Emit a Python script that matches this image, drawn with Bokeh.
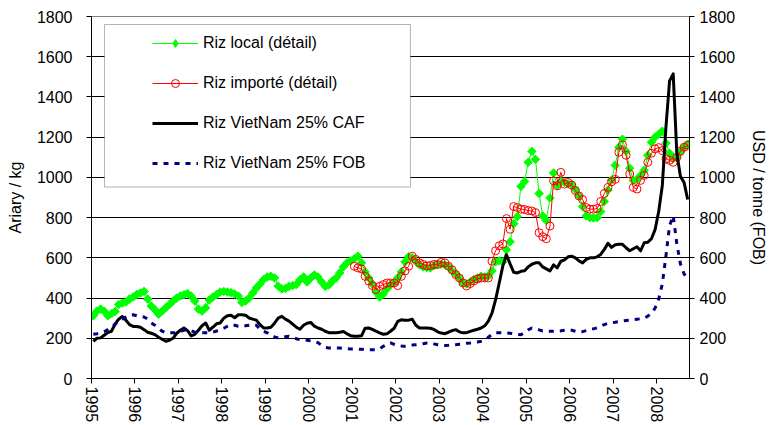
import math
from bokeh.plotting import figure
from bokeh.models import (Range1d, LinearAxis, FixedTicker, Legend, LegendItem,
                          BoxAnnotation)
from bokeh.embed import file_html
from bokeh.resources import INLINE

# ---------------- data (monthly, Jan 1995 .. Sep 2008) ----------------
start_year = 1995
year_ticks = list(range(1995, 2009))
left_ticks = list(range(0, 1801, 200))

riz_local = [
    312, 335, 345, 335, 312, 322, 333, 368, 375, 380, 395, 405,      # 1995
    418, 425, 433, 395, 360, 342, 320, 335, 352, 368, 385, 400,      # 1996
    410, 417, 423, 410, 385, 345, 335, 352, 390, 405, 417, 430,      # 1997
    433, 430, 427, 420, 410, 378, 385, 400, 425, 450, 470, 492,      # 1998
    505, 508, 500, 460, 445, 448, 458, 462, 467, 490, 505, 480,      # 1999
    500, 515, 505, 480, 458, 465, 485, 500, 525, 555, 575, 585,      # 2000
    595, 608, 575, 530, 500, 470, 430, 405, 420, 445, 465, 478,      # 2001
    500, 530, 580, 605, 600, 583, 565, 555, 552, 550, 560, 567,      # 2002
    568, 565, 558, 535, 520, 500, 475, 470, 480, 492, 500, 508,      # 2003
    505, 510, 535, 580, 585, 580, 640, 680, 770, 805, 955, 980,      # 2004
    1075, 1130, 1090, 920, 808, 785, 898, 1022, 960, 980, 975, 968,  # 2005
    965, 940, 908, 855, 808, 800, 798, 800, 830, 880, 937, 987,      # 2006
    1060, 1150, 1190, 1130, 1045, 985, 990, 1010, 1035, 1110, 1175, 1200,  # 2007
    1215, 1230, 1170, 1120, 1095, 1100, 1127, 1150, 1165,            # 2008
]

riz_importe = [  # from Jan 2001
    558, 550, 545, 508, 485, 462, 442, 458, 467, 475, 475, 475,      # 2001
    462, 508, 535, 558, 608, 592, 575, 567, 560, 562, 567, 567,      # 2002
    578, 575, 558, 540, 517, 500, 475, 460, 472, 485, 495, 500,      # 2003
    500, 500, 583, 635, 660, 669, 795, 742, 855, 850, 842, 840,      # 2004
    835, 833, 825, 725, 705, 695, 758, 983, 958, 1025, 967, 975,     # 2005
    962, 935, 908, 890, 850, 842, 842, 845, 880, 920, 950, 978,      # 2006
    990, 1125, 1162, 1110, 1017, 950, 942, 985, 1010, 1075, 1120, 1142,  # 2007
    1148, 1133, 1092, 1085, 1075, 1100, 1130, 1150, 1160,            # 2008
]

vietnam_caf = [
    185, 200, 202, 215, 228, 235, 270, 295, 308, 290, 268, 259,      # 1995
    259, 255, 243, 230, 225, 218, 205, 195, 185, 190, 200, 225,      # 1996
    240, 251, 238, 212, 220, 240, 262, 276, 240, 255, 272, 276,      # 1997
    300, 312, 314, 302, 317, 317, 315, 301, 295, 290, 268, 251,      # 1998
    251, 255, 275, 300, 309, 295, 285, 270, 255, 245, 265, 275,      # 1999
    279, 260, 251, 245, 235, 228, 227, 227, 230, 234, 222, 213,      # 2000
    210, 210, 212, 250, 251, 244, 235, 227, 220, 222, 235, 250,      # 2001
    284, 292, 290, 290, 295, 265, 251, 251, 251, 250, 244, 232,      # 2002
    226, 223, 230, 238, 243, 232, 227, 228, 234, 240, 245, 251,      # 2003
    262, 285, 325, 392, 475, 560, 615, 570, 528, 525, 533, 536,      # 2004
    555, 568, 575, 575, 555, 545, 535, 565, 550, 583, 590, 605,      # 2005
    608, 600, 585, 575, 592, 600, 600, 605, 617, 642, 672, 652,      # 2006
    665, 667, 667, 650, 635, 645, 655, 635, 675, 678, 695, 740,      # 2007
    830, 960, 1250, 1480, 1515, 1120, 1005, 975, 890,                # 2008
]

vietnam_fob = [
    220, 222, 225, 232, 243, 255, 270, 284, 295, 305, 315, 317,      # 1995
    312, 309, 306, 295, 276, 265, 250, 235, 227, 227, 227, 228,      # 1996
    232, 240, 243, 238, 230, 227, 227, 227, 227, 230, 236, 243,      # 1997
    250, 260, 268, 265, 260, 259, 262, 265, 268, 265, 245, 235,      # 1998
    227, 215, 207, 202, 204, 208, 210, 205, 198, 193, 192, 190,      # 1999
    187, 185, 178, 165, 155, 152, 152, 152, 152, 150, 148, 147,      # 2000
    147, 146, 145, 143, 143, 143, 143, 148, 160, 170, 177, 170,      # 2001
    165, 162, 160, 163, 166, 168, 170, 173, 176, 177, 172, 168,      # 2002
    165, 164, 165, 167, 168, 170, 172, 175, 177, 180, 182, 185,      # 2003
    190, 205, 220, 227, 227, 227, 227, 225, 222, 219, 218, 228,      # 2004
    242, 251, 248, 242, 236, 235, 235, 235, 235, 237, 240, 243,      # 2005
    240, 235, 231, 233, 238, 243, 247, 252, 260, 268, 274, 278,      # 2006
    280, 283, 286, 288, 290, 293, 295, 297, 300, 310, 325, 350,      # 2007
    395, 470, 610, 760, 810, 670, 570, 520, 495,                     # 2008
]

n_months = len(riz_local)
x_all = [start_year + (m + 0.5) / 12 for m in range(n_months)]
x_imp = x_all[n_months - len(riz_importe):]

FONT = "Liberation Sans"
FS = "16px"

p = figure(width=770, height=425,
           x_range=Range1d(start_year, start_year + n_months / 12),
           y_range=Range1d(0, 1800),
           output_backend="svg", toolbar_location=None,
           min_border_left=91, min_border_right=79,
           min_border_top=16, min_border_bottom=46)
p.extra_y_ranges = {"fob": Range1d(0, 1800)}
p.background_fill_color = "white"
p.border_fill_color = "white"
p.outline_line_color = "#808080"

# grid
p.xgrid.visible = False
p.ygrid.ticker = FixedTicker(ticks=left_ticks[1:-1])
p.ygrid.grid_line_color = "black"
p.ygrid.grid_line_width = 1

# axes
p.xaxis.ticker = FixedTicker(ticks=year_ticks)
p.xaxis.major_label_overrides = {y: str(y) for y in year_ticks}
p.xaxis.major_label_orientation = "vertical"
p.yaxis.ticker = FixedTicker(ticks=left_ticks)
p.yaxis.axis_label = "Ariary / kg"

right = LinearAxis(y_range_name="fob", axis_label="USD / tonne (FOB)",
                   ticker=FixedTicker(ticks=left_ticks))
p.add_layout(right, "right")

for ax in p.xaxis + p.yaxis + [right]:
    ax.axis_line_color = "black"
    ax.axis_line_width = 1
    ax.major_tick_line_color = "black"
    ax.major_tick_out = 5
    ax.major_tick_in = 0
    ax.minor_tick_line_color = None
    ax.major_label_text_font = FONT
    ax.major_label_text_font_size = FS
    ax.major_label_text_color = "black"
    ax.axis_label_text_font = FONT
    ax.axis_label_text_font_size = FS
    ax.axis_label_text_font_style = "normal"
    ax.axis_label_text_color = "black"

p.xaxis.major_label_standoff = 3
p.yaxis.major_label_standoff = 14
p.yaxis.axis_label_standoff = 10
right.major_label_standoff = 5
right.axis_label_standoff = 12

# series
g_line = p.line(x_all, riz_local, line_color="#00FF00", line_width=1)
g_pts = p.scatter(x_all, riz_local, marker="square", size=6, angle=math.pi / 4,
                  fill_color="#00FF00", line_color="#00FF00")
r_line = p.line(x_imp, riz_importe, line_color="#FF0000", line_width=1)
r_pts = p.scatter(x_imp, riz_importe, marker="circle", size=8,
                  fill_color=None, line_color="#FF0000", line_width=1)
k_line = p.line(x_all, vietnam_caf, line_color="black", line_width=3,
                line_join="round")
b_line = p.line(x_all, vietnam_fob, line_color="#000080", line_width=3,
                line_dash="5 6", y_range_name="fob")

# legend-only diamond key for the green series (a single undrawn NaN point)
g_key = p.scatter(x=[float("nan")], y=[float("nan")], marker="diamond",
                  size=11, fill_color="#00FF00", line_color="#00FF00")

# legend frame
box = BoxAnnotation(left=start_year + 13 / 600 * n_months / 12,
                    right=start_year + 320 / 600 * n_months / 12,
                    top=1760, bottom=952,
                    fill_color="white", fill_alpha=1,
                    line_color="black", line_width=1)
p.add_layout(box)

legend = Legend(items=[
    LegendItem(label="Riz local (détail)", renderers=[g_line, g_key]),
    LegendItem(label="Riz importé (détail)", renderers=[r_line, r_pts]),
    LegendItem(label="Riz VietNam 25% CAF", renderers=[k_line]),
    LegendItem(label="Riz VietNam 25% FOB", renderers=[b_line]),
], location=(61, 205))
legend.margin = 0
legend.padding = 0
legend.spacing = 20
legend.glyph_width = 46
legend.glyph_height = 20
legend.label_height = 20
legend.label_standoff = 5
legend.label_text_font = FONT
legend.label_text_font_size = FS
legend.label_text_color = "black"
legend.border_line_alpha = 0
legend.background_fill_alpha = 0
p.add_layout(legend)

open("out.html", "w").write(file_html(p, INLINE))
